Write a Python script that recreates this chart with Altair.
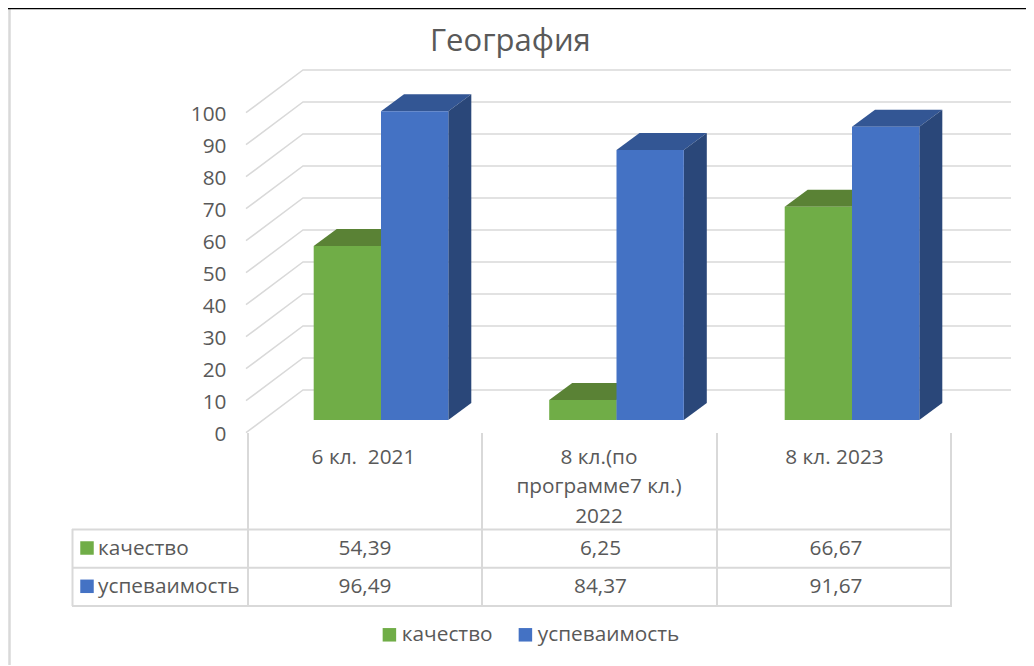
import altair as alt
import pandas as pd

categories = ["6 кл.\u00a0 2021", "8 кл.(по\nпрограмме7 кл.)\n2022", "8 кл. 2023"]
series_names = ["качество", "успеваимость"]
kachestvo = [54.39, 6.25, 66.67]
uspev = [96.49, 84.37, 91.67]
value_labels = {"качество": ["54,39", "6,25", "66,67"], "успеваимость": ["96,49", "84,37", "91,67"]}
ticks = list(range(0, 101, 10))

FONT = "Open Sans"
GREY = "#595959"
LINE = "#d9d9d9"
FS = 20.8
W, H = 1018, 657
STEP = 235.5
C0 = 373.0  # pixel of category 0 boundary between the two bars


def u(px):
    return (px - C0) / STEP


def vs(px_up):  # pixels upward expressed in value units
    return px_up / 3.2


xs = alt.Scale(domain=[u(0), u(W)], range=[0, W], nice=False, zero=False)
ys = alt.Scale(domain=[0, 100], range=[424.7, 104.7], nice=False, zero=False, clamp=False)
AX = alt.Axis(
    title=None, values=ticks, domain=False, ticks=False, grid=False, offset=-218,
    labelPadding=0, labelFont=FONT, labelFontSize=FS, labelColor=GREY, labelOffset=1.5,
)

BAR_W = 67.3 / STEP
DX = 23 / STEP
PLANE = vs(12.7)
DEPTH = vs(17)

fronts, tops, sides = [], [], []
for s, vals in zip(series_names, [kachestvo, uspev]):
    for i, v in enumerate(vals):
        x0 = i - BAR_W if s == series_names[0] else i
        x1 = x0 + BAR_W
        fronts.append(dict(series=s, cat=i, x=x0, x2=x1, y=v + PLANE, y2=PLANE))
        tops.append(dict(series=s, cat=i, x=x0, x2=x1, y=v + PLANE))
        tops.append(dict(series=s, cat=i, x=x0 + DX, x2=x1 + DX, y=v + PLANE + DEPTH))
        sides.append(dict(series=s, cat=i, x=x1, y=v + PLANE, y2=PLANE))
        sides.append(dict(series=s, cat=i, x=x1 + DX, y=v + PLANE + DEPTH, y2=PLANE + DEPTH))
fronts, tops, sides = pd.DataFrame(fronts), pd.DataFrame(tops), pd.DataFrame(sides)

wall = vs(42.7)
grid_rows = []
for t in ticks:
    grid_rows += [
        dict(t=t, x=u(238), y=t),
        dict(t=t, x=u(295), y=t + wall),
        dict(t=t, x=u(1003), y=t + wall),
    ]
grid = pd.DataFrame(grid_rows)

grid_layer = alt.Chart(grid).mark_line(color=LINE, strokeWidth=1.5).encode(
    x=alt.X("x:Q", scale=xs, axis=None),
    y=alt.Y("y:Q", scale=ys, axis=AX),
    detail="t:N",
)

color = alt.Scale(domain=series_names, range=["#70AD47", "#4472C4"])
legend = alt.Legend(
    orient="none", legendX=371, legendY=616, direction="horizontal", title=None,
    symbolType="square", symbolSize=182, symbolStrokeWidth=0, labelFont=FONT, labelFontSize=FS,
    labelColor=GREY, columnPadding=22, labelOffset=2,
)


def bars(s, top_c, side_c):
    f = fronts[fronts.series == s]
    t = tops[tops.series == s]
    d = sides[sides.series == s]
    top = alt.Chart(t).mark_area(orient="horizontal", color=top_c).encode(
        x=alt.X("x:Q", scale=xs, axis=None), x2="x2:Q",
        y=alt.Y("y:Q", scale=ys, axis=AX), detail="cat:N",
    )
    side = alt.Chart(d).mark_area(color=side_c).encode(
        x=alt.X("x:Q", scale=xs, axis=None),
        y=alt.Y("y:Q", scale=ys, axis=AX), y2="y2:Q", detail="cat:N",
    )
    front = alt.Chart(f).mark_rect().encode(
        x=alt.X("x:Q", scale=xs, axis=None), x2="x2:Q",
        y=alt.Y("y:Q", scale=ys, axis=AX), y2="y2:Q",
        color=alt.Color("series:N", scale=color, legend=legend),
    )
    return [top, side, front]


# table and frame
def hrule(y, x1, x2, c=LINE, w=2):
    return alt.Chart(pd.DataFrame({"a": [0]})).mark_rule(color=c, strokeWidth=w).encode(
        y=alt.value(y - 8), x=alt.value(x1 - 8), x2=alt.value(x2 - 8))


def vrule(x, y1, y2, c=LINE, w=2):
    return alt.Chart(pd.DataFrame({"a": [0]})).mark_rule(color=c, strokeWidth=w).encode(
        x=alt.value(x - 8), y=alt.value(y1 - 8), y2=alt.value(y2 - 8))


frame = [
    vrule(9.5, 9, 665, w=2.5),
    hrule(8.3, 8, 1034, c="#000000", w=2),
    hrule(529.5, 72, 951), hrule(567.8, 72, 951), hrule(606, 72, 952),
    vrule(72.5, 529, 606), vrule(248, 433, 606), vrule(482, 433, 606),
    vrule(717, 433, 606), vrule(951, 433, 606),
]

cat_df = pd.DataFrame({"i": [0, 1, 2], "label": categories})
cat_text = alt.Chart(cat_df).mark_text(
    font=FONT, fontSize=FS, color=GREY, baseline="alphabetic", align="center",
    lineBreak="\n", lineHeight=29.3, xOffset=-17.5,
).encode(x=alt.X("i:Q", scale=xs, axis=None), y=alt.value(464 - 8), text="label:N")

table_layers = []
for s, base in zip(series_names, [555, 593.3]):
    df = pd.DataFrame({"i": [0, 1, 2], "label": value_labels[s]})
    table_layers.append(
        alt.Chart(df).mark_text(
            font=FONT, fontSize=FS, color=GREY, baseline="alphabetic", align="center", xOffset=-16,
        ).encode(x=alt.X("i:Q", scale=xs, axis=None), y=alt.value(base - 8), text="label:N")
    )
    sdf = pd.DataFrame({"series": [s]})
    table_layers.append(
        alt.Chart(sdf).mark_text(
            font=FONT, fontSize=FS, color=GREY, baseline="alphabetic", align="left",
        ).encode(x=alt.value(98 - 8), y=alt.value(base - 8), text="series:N")
    )
    table_layers.append(
        alt.Chart(sdf).mark_square(size=182, opacity=1).encode(
            x=alt.value(87 - 8), y=alt.value(base - 7 - 8),
            color=alt.Color("series:N", scale=color, legend=None),
        )
    )

chart = alt.layer(
    *frame,
    grid_layer,
    *bars(series_names[0], "#5A8235", "#4E7A30"),
    *bars(series_names[1], "#335694", "#2A4779"),
    cat_text,
    *table_layers,
).properties(
    width=W,
    height=H,
    padding=0,
    autosize=alt.AutoSizeParams(type="none"),
    background="white",
    title=alt.TitleParams(
        "География", anchor="start", frame="group", dx=422, dy=55, font=FONT, fontSize=31,
        fontWeight="normal", color=GREY,
    ),
).configure_view(stroke=None)

chart.save("out.html", embed_options={"renderer": "svg", "actions": False})
